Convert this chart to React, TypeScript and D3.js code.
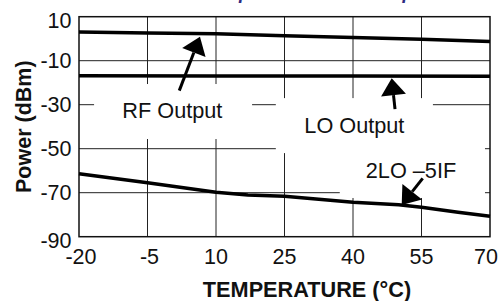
import React, { useEffect, useRef } from "react";
import * as d3 from "d3";

// temperature (°C) / power (dBm)
const rfTemps = [-20, -5, 10, 25, 40, 55, 70];
const rfPower = [3.0, 2.6, 2.2, 1.3, 0.5, -0.2, -1.3];

const loTemps = [-20, 10, 40, 70];
const loPower = [-16.8, -16.9, -17.0, -17.1];

const spurTemps = [-20, -5, 10, 17, 25, 40, 50, 55, 63, 70];
const spurPower = [-61.4, -65.5, -69.8, -71.0, -71.6, -74.3, -75.5, -76.6, -78.9, -80.7];

const xTicks = [-20, -5, 10, 25, 40, 55, 70];
const yTicks = [10, -10, -30, -50, -70, -90];

// label boxes that blank the grid behind the callouts (data units)
const boxes = [
  { t0: -16.7, t1: 17.9, p0: -20.6, p1: -45.6 },
  { t0: 23.1, t1: 57.5, p0: -27.0, p1: -52.0 },
  { t0: 37.1, t1: 68.9, p0: -48.3, p1: -72.4 },
];

const labels = [
  { text: "RF Output", t: 0.45, p: -36.2 },
  { text: "LO Output", t: 40.3, p: -42.7 },
  { text: "2LO \u20135IF", t: 52.7, p: -63.5 },
];

const arrows = [
  { t0: 1.96, p0: -23.6, t1: 6.49, p1: 0.91 },
  { t0: 49.2, p0: -32.0, t1: 48.47, p1: -18.0 },
  { t0: 55.26, p0: -63.5, t1: 50.66, p1: -75.6 },
];

const FONT = "'Liberation Sans', Arial, Helvetica, sans-serif";

const App = () => {
  const ref = useRef<SVGSVGElement | null>(null);

  useEffect(() => {
    if (!ref.current) return;
    const svg = d3.select(ref.current);
    svg.selectAll("*").remove();

    const left = 79, right = 490, top = 16.7, bottom = 236.7;
    const x = d3.scaleLinear().domain([-20, 70]).range([left, right]);
    const y = d3.scaleLinear().domain([-90, 10]).range([bottom, top]);

    // title, cut off above the frame (only descenders show)
    svg.append("text")
      .attr("x", 207)
      .attr("y", -1.2)
      .attr("font-family", FONT)
      .attr("font-size", 18.6)
      .attr("font-weight", "bold")
      .attr("font-style", "italic")
      .attr("fill", "#2e2a82")
      .text("Output Power vs. Temperature");

    // grid
    const g = svg.append("g");
    g.selectAll(".vx")
      .data(xTicks.slice(1, -1))
      .join("line")
      .attr("x1", (d) => x(d)).attr("x2", (d) => x(d))
      .attr("y1", top).attr("y2", bottom)
      .attr("stroke", "#222").attr("stroke-width", 1);
    g.selectAll(".hy")
      .data(yTicks.slice(1, -1))
      .join("line")
      .attr("x1", left).attr("x2", right)
      .attr("y1", (d) => y(d)).attr("y2", (d) => y(d))
      .attr("stroke", "#222").attr("stroke-width", 1);

    // white boxes behind labels
    svg.append("g").selectAll("rect")
      .data(boxes)
      .join("rect")
      .attr("x", (d) => x(d.t0))
      .attr("y", (d) => y(d.p0))
      .attr("width", (d) => x(d.t1) - x(d.t0))
      .attr("height", (d) => y(d.p1) - y(d.p0))
      .attr("fill", "#fff");

    // frame
    svg.append("rect")
      .attr("x", left).attr("y", top)
      .attr("width", right - left).attr("height", bottom - top)
      .attr("fill", "none").attr("stroke", "#111").attr("stroke-width", 1.5);

    // data lines
    const series = [
      { t: rfTemps, p: rfPower },
      { t: loTemps, p: loPower },
      { t: spurTemps, p: spurPower },
    ];
    series.forEach((s) => {
      const pts: [number, number][] = s.t.map((t, i) => [x(t), y(s.p[i])]);
      svg.append("path")
        .attr("d", d3.line()(pts))
        .attr("fill", "none")
        .attr("stroke", "#000")
        .attr("stroke-width", 3.5)
        .attr("stroke-linejoin", "round");
    });

    // arrows
    arrows.forEach((a) => {
      const x0 = x(a.t0), y0 = y(a.p0), x1 = x(a.t1), y1 = y(a.p1);
      const dx = x1 - x0, dy = y1 - y0;
      const len = Math.hypot(dx, dy);
      const ux = dx / len, uy = dy / len;
      const headL = 17, headW = 12.5;
      const bx = x1 - ux * headL, by = y1 - uy * headL;
      svg.append("line")
        .attr("x1", x0).attr("y1", y0)
        .attr("x2", bx).attr("y2", by)
        .attr("stroke", "#000").attr("stroke-width", 3);
      svg.append("path")
        .attr("d", `M${x1},${y1}L${bx - uy * headW},${by + ux * headW}L${bx + uy * headW},${by - ux * headW}Z`)
        .attr("fill", "#000");
    });

    // labels
    svg.append("g").selectAll("text")
      .data(labels)
      .join("text")
      .attr("x", (d) => x(d.t))
      .attr("y", (d) => y(d.p))
      .attr("text-anchor", "middle")
      .attr("font-family", FONT)
      .attr("font-size", 21.7)
      .attr("fill", "#111")
      .text((d) => d.text);

    // x tick labels
    svg.append("g").selectAll("text")
      .data(xTicks)
      .join("text")
      .attr("x", (d) => Math.min(x(d) + (d < 0 ? 2 : 0), 486))
      .attr("y", 263.5)
      .attr("text-anchor", "middle")
      .attr("font-family", FONT)
      .attr("font-size", 21.5)
      .attr("fill", "#111")
      .text((d) => d);

    // y tick labels
    svg.append("g").selectAll("text")
      .data(yTicks)
      .join("text")
      .attr("x", 71.5)
      .attr("y", (d) => y(d) + (d === 10 || d === -90 ? 4 : 0))
      .attr("dy", "0.36em")
      .attr("text-anchor", "end")
      .attr("font-family", FONT)
      .attr("font-size", 21.5)
      .attr("fill", "#111")
      .text((d) => d);

    // axis titles
    svg.append("text")
      .attr("transform", `translate(31,${(top + bottom) / 2}) rotate(-90)`)
      .attr("text-anchor", "middle")
      .attr("font-family", FONT)
      .attr("font-size", 21.5)
      .attr("font-weight", "bold")
      .attr("fill", "#111")
      .text("Power (dBm)");

    svg.append("text")
      .attr("x", 307)
      .attr("y", 297.3)
      .attr("text-anchor", "middle")
      .attr("font-family", FONT)
      .attr("font-size", 21.7)
      .attr("font-weight", "bold")
      .attr("fill", "#111")
      .text("TEMPERATURE (\u00B0C)");
  }, []);

  return (
    <svg
      ref={ref}
      width={500}
      height={301}
      style={{ position: "absolute", left: 0, top: 0, background: "#fff", display: "block" }}
    />
  );
};

export default App;
